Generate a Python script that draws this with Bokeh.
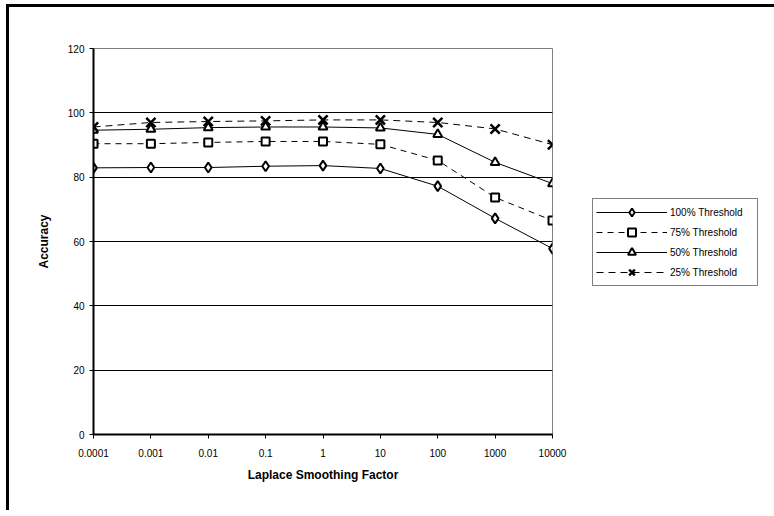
from bokeh.plotting import figure
from bokeh.models import Range1d, FixedTicker, Legend, LegendItem
from bokeh.embed import file_html
from bokeh.resources import INLINE

categories = ["0.0001", "0.001", "0.01", "0.1", "1", "10", "100", "1000", "10000"]
thr100 = [82.9, 83.0, 83.0, 83.4, 83.6, 82.7, 77.2, 67.2, 57.8]
thr75 = [90.4, 90.4, 90.8, 91.1, 91.1, 90.2, 85.2, 73.7, 66.5]
thr50 = [94.6, 94.9, 95.4, 95.6, 95.6, 95.3, 93.3, 84.6, 78.0]
thr25 = [95.6, 97.0, 97.3, 97.5, 97.8, 97.8, 97.0, 95.0, 90.1]
y_ticks = [0, 20, 40, 60, 80, 100, 120]

xs = list(range(len(categories)))
FONT = "Liberation Sans"

p = figure(frame_width=459, frame_height=386, output_backend="svg", toolbar_location=None,
           x_range=Range1d(0, len(categories) - 1), y_range=Range1d(0, 120),
           min_border_left=84, min_border_right=214, min_border_top=41, min_border_bottom=76)
p.styles = {"border-top": "3px solid black", "border-left": "3px solid black",
            "margin-left": "6px", "margin-top": "4px"}

p.background_fill_color = "white"
p.border_fill_color = "white"
p.outline_line_color = "#808080"
p.outline_line_width = 1

p.xgrid.grid_line_color = None
p.ygrid.grid_line_color = "black"
p.ygrid.grid_line_width = 1
p.ygrid.ticker = FixedTicker(ticks=y_ticks)

p.xaxis.ticker = FixedTicker(ticks=xs)
p.xaxis.major_label_overrides = {i: c for i, c in enumerate(categories)}
p.yaxis.ticker = FixedTicker(ticks=y_ticks)

for ax in (p.xaxis[0], p.yaxis[0]):
    ax.axis_line_color = "black"
    ax.axis_line_width = 2
    ax.major_tick_line_color = "black"
    ax.major_tick_line_width = 1
    ax.major_tick_out = 4
    ax.major_tick_in = 0
    ax.minor_tick_line_color = None
    ax.major_label_text_font = FONT
    ax.major_label_text_font_size = "10px"
    ax.major_label_text_color = "black"
    ax.axis_label_text_font = FONT
    ax.axis_label_text_font_size = "12px"
    ax.axis_label_text_font_style = "bold"
    ax.axis_label_text_color = "black"

p.xaxis.axis_label = "Laplace Smoothing Factor"
p.yaxis.axis_label = "Accuracy"
p.xaxis.major_label_standoff = 10
p.xaxis.axis_label_standoff = 8
p.yaxis.major_label_standoff = 5
p.yaxis.axis_label_standoff = 14

series = [
    ("100% Threshold", thr100, None, "diamond", 10, 2),
    ("75% Threshold", thr75, "6 5", "square", 8, 2),
    ("50% Threshold", thr50, None, "triangle", 9, 2),
    ("25% Threshold", thr25, "7 5", "x", 13, 2.5),
]

items = []
for label, vals, dash, marker, size, lw in series:
    kw = {}
    if dash:
        kw["line_dash"] = dash
    l = p.line(xs, vals, line_color="black", line_width=1, **kw)
    s = p.scatter(xs, vals, marker=marker, size=size, fill_color="white",
                  line_color="black", line_width=lw)
    items.append(LegendItem(label=label, renderers=[l, s]))

legend = Legend(items=items, location=(40, 148))
legend.border_line_color = "black"
legend.border_line_width = 1
legend.background_fill_color = "white"
legend.background_fill_alpha = 1
legend.label_text_font = FONT
legend.label_text_font_size = "10px"
legend.label_text_color = "black"
legend.glyph_width = 71
legend.glyph_height = 20
legend.label_width = 84
legend.spacing = 0
legend.padding = 3
legend.margin = 0
legend.label_standoff = 3
p.add_layout(legend, "right")

open("out.html", "w").write(file_html(p, INLINE))
